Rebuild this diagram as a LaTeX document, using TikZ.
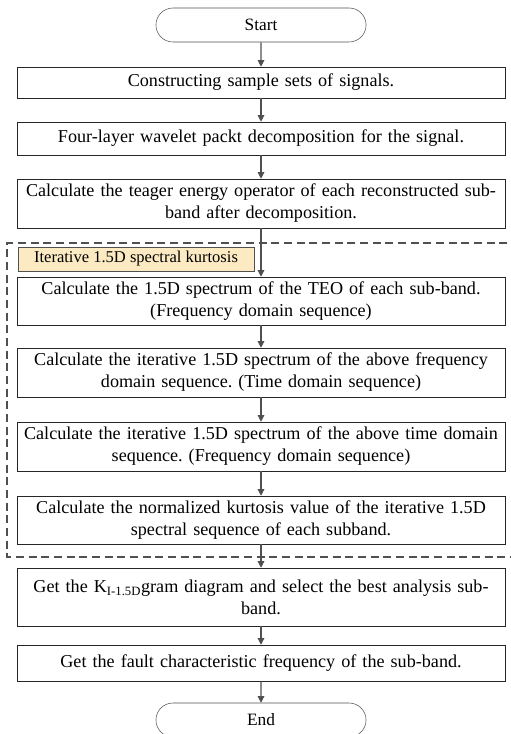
\documentclass[tikz,border=0pt]{standalone}
\usepackage{fontspec}
\setmainfont{Liberation Serif}
\usepackage{xcolor}
\usetikzlibrary{arrows.meta,positioning,calc,shapes.misc}

\definecolor{labelfill}{HTML}{FCEBC2}
\definecolor{linegray}{HTML}{505050}

\begin{document}
\frenchspacing
\begin{tikzpicture}[x=0.75pt,y=-0.75pt,
    terminal/.style={draw=linegray,rounded rectangle,
      minimum width=219*0.75pt,minimum height=34*0.75pt,font=\fontsize{13}{15}\selectfont},
    stepbox/.style={draw=black!85,minimum width=488*0.75pt,align=center,
      text width=484*0.75pt,inner sep=0pt,font=\fontsize{13.6}{16.5}\selectfont},
    tag/.style={draw=linegray,fill=labelfill,minimum width=236*0.75pt,
      minimum height=24*0.75pt,inner sep=0pt,font=\fontsize{12.4}{14}\selectfont},
    flow/.style={-{Triangle[width=5pt,length=5pt]},draw=linegray,thick}
  ]
    \useasboundingbox (0,0) rectangle (510,734);

    \node[terminal] (start) at (261,25) {Start};
    \node[stepbox,minimum height=31*0.75pt] (s1) at (261,82.5)
      {Constructing sample sets of signals.};
    \node[stepbox,minimum height=33*0.75pt] (s2) at (261,138.5)
      {Four-layer wavelet packt decomposition for the signal.};
    \node[stepbox,minimum height=49*0.75pt] (s3) at (261,203.5)
      {Calculate the teager energy operator of each reconstructed sub-\\band after decomposition.};

    \node[tag] (iter) at (136,259) {Iterative 1.5D spectral kurtosis};

    \node[stepbox,minimum height=48*0.75pt] (s4) at (261,301)
      {Calculate the 1.5D spectrum of the TEO of each sub-band.\\(Frequency domain sequence)};
    \node[stepbox,minimum height=49*0.75pt] (s5) at (261,372.5)
      {Calculate the iterative 1.5D spectrum of the above frequency\\domain sequence. (Time domain sequence)};
    \node[stepbox,minimum height=49*0.75pt] (s6) at (261,446.5)
      {Calculate the iterative 1.5D spectrum of the above time domain\\sequence. (Frequency domain sequence)};
    \node[stepbox,minimum height=48*0.75pt] (s7) at (261,520)
      {Calculate the normalized kurtosis value of the iterative 1.5D\\spectral sequence of each subband.};

    \node[stepbox,minimum height=58*0.75pt] (s8) at (261,597)
      {Get the K\textsubscript{I-1.5D}gram diagram and select the best analysis sub-\\band.};
    \node[stepbox,minimum height=36*0.75pt] (s9) at (261,663)
      {Get the fault characteristic frequency of the sub-band.};
    \node[terminal] (end) at (261,720) {End};

    % dashed frame round the iterative part
    \draw[draw=linegray,thick,dash pattern=on 6pt off 3.5pt]
      (520,243) -- (7,243) -- (7,557) -- (520,557);

    \draw[flow] (start) -- (s1);
    \foreach \a/\b in {s1/s2,s2/s3,s3/s4,s4/s5,s5/s6,s6/s7,s7/s8,s8/s9,s9/end} {
      \draw[flow] (\a) -- (\b);
    }
  \end{tikzpicture}
\end{document}
